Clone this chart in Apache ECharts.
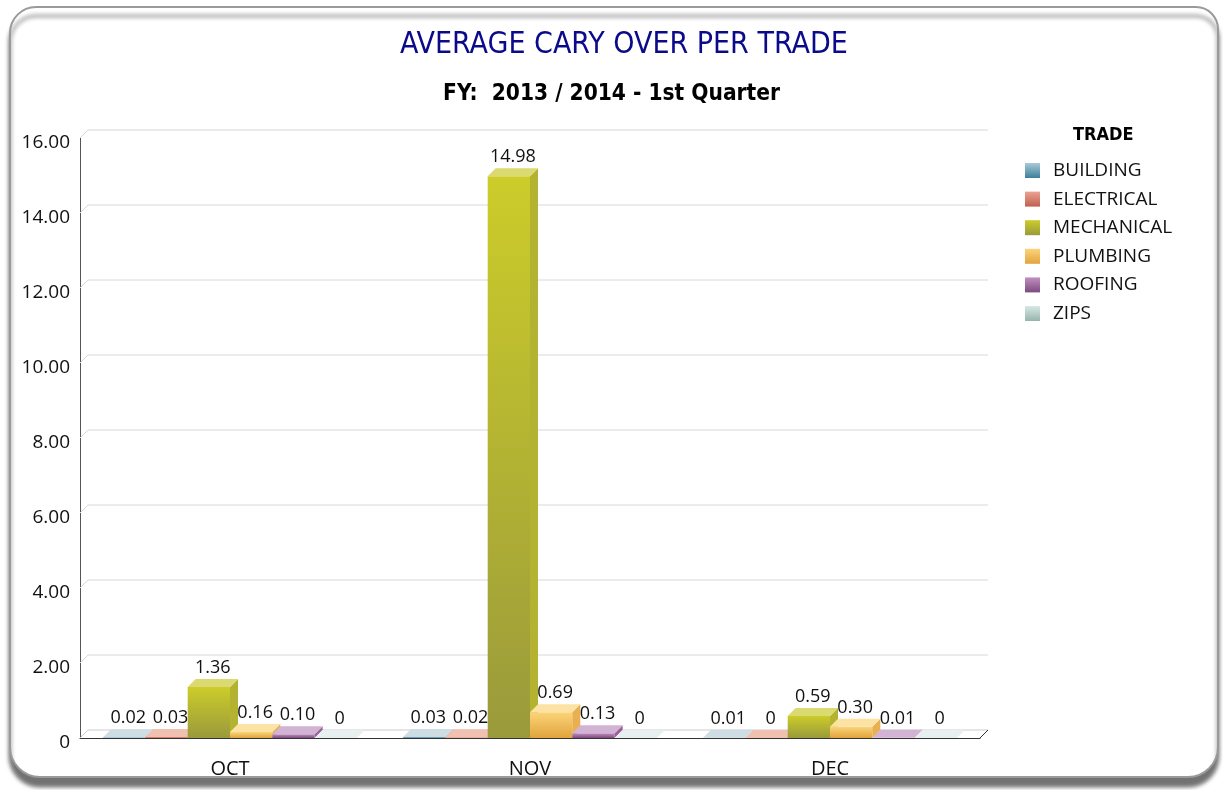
<!DOCTYPE html>
<html>
<head>
<meta charset="utf-8">
<script src="https://cdn.jsdelivr.net/npm/echarts@6/dist/echarts.min.js"></script>
<style>
html,body{margin:0;padding:0;background:#fff;}
#chart{width:1223px;height:790px;}
</style>
</head>
<body>
<div id="chart"></div>
<script>
// ---- data ----
const categories = ['OCT', 'NOV', 'DEC'];
const trades = ['BUILDING', 'ELECTRICAL', 'MECHANICAL', 'PLUMBING', 'ROOFING', 'ZIPS'];
const building   = [0.02, 0.03, 0.01];
const electrical = [0.03, 0.02, 0];
const mechanical = [1.36, 14.98, 0.59];
const plumbing   = [0.16, 0.69, 0.30];
const roofing    = [0.10, 0.13, 0.01];
const zips       = [0, 0, 0];
const yTicks = [0, 2, 4, 6, 8, 10, 12, 14, 16];

const seriesValues = [building, electrical, mechanical, plumbing, roofing, zips];

// ---- styles ----
const palette = [
  {front: ['#a9cad8', '#3d7f9a'], top: '#cddde3', side: '#5a8fa6'},
  {front: ['#eba394', '#c0604e'], top: '#f0c0b0', side: '#c8705e'},
  {front: ['#cccc2a', '#9a9a3c'], top: '#dada70', side: '#b3b331'},
  {front: ['#fcd47a', '#e0a43c'], top: '#fde3a3', side: '#e8b050'},
  {front: ['#c090c0', '#7e4a80'], top: '#d3b3d3', side: '#9a609a'},
  {front: ['#d8e8e6', '#96b4ac'], top: '#e8f0ef', side: '#b0c8c4'}
];
const DEPTH = 8;
const FONT = '"Open Sans", "DejaVu Sans", sans-serif';
const CFONT = '"DejaVu Sans Condensed", "DejaVu Sans", sans-serif';

function grad(c) {
  return new echarts.graphic.LinearGradient(0, 0, 0, 1, [
    {offset: 0, color: c[0]}, {offset: 1, color: c[1]}
  ]);
}
function fmt(v) { return v === 0 ? '0' : v.toFixed(2); }

function makeBarRender(idx) {
  return function (params, api) {
    const cat = api.value(0);
    const val = api.value(1);
    const base = api.coord([cat, 0]);
    const top = api.coord([cat, val]);
    const band = api.size([1, 0])[0];
    const w = band * 0.141;
    const x0 = base[0] - 3 * w + idx * w;
    const x1 = x0 + w;
    const y0 = base[1];
    const yt = top[1];
    const d = DEPTH;
    const p = palette[idx];
    const children = [];
    if (y0 - yt > 0.3) {
      children.push({
        type: 'rect',
        shape: {x: x0, y: yt, width: w, height: y0 - yt},
        style: {fill: grad(p.front)}
      });
      children.push({
        type: 'polygon',
        shape: {points: [[x1, yt], [x1 + d, yt - d], [x1 + d, y0 - d], [x1, y0]]},
        style: {fill: p.side}
      });
    }
    children.push({
      type: 'polygon',
      shape: {points: [[x0, yt], [x1, yt], [x1 + d, yt - d], [x0 + d, yt - d]]},
      style: {fill: p.top}
    });
    children.push({
      type: 'text',
      style: {
        x: x0 + w / 2 + d / 2, y: yt - d - 2,
        text: fmt(val), align: 'center', verticalAlign: 'bottom',
        font: '18px ' + FONT, fill: '#111'
      }
    });
    return {type: 'group', children: children};
  };
}

function renderGrid(params, api) {
  const v = api.value(0);
  const cs = params.coordSys;
  const y = api.coord([0, v])[1];
  const d = DEPTH;
  const children = [{
    type: 'polyline',
    shape: {points: [[cs.x, y], [cs.x + d, y - d], [cs.x + cs.width + d, y - d]]},
    style: {stroke: v === 0 ? '#cccccc' : '#d8d8d8', lineWidth: 1, fill: null}
  }];
  if (v === 0) {
    children.push({
      type: 'line',
      shape: {x1: cs.x + cs.width, y1: y, x2: cs.x + cs.width + d, y2: y - d},
      style: {stroke: '#333', lineWidth: 1}
    });
  }
  return {type: 'group', children: children};
}

const series = [{
  type: 'custom',
  name: '_grid',
  renderItem: renderGrid,
  data: yTicks.map(v => [v]),
  encode: {y: 0},
  silent: true,
  z: 1
}];
trades.forEach((t, i) => {
  series.push({
    type: 'custom',
    name: t,
    renderItem: makeBarRender(i),
    itemStyle: {color: grad(palette[i].front)},
    data: seriesValues[i].map((v, c) => [c, v]),
    encode: {x: 0, y: 1},
    clip: false,
    z: 2
  });
});

const chart = echarts.init(document.getElementById('chart'));
chart.setOption({
  animation: false,
  backgroundColor: '#fff',
  graphic: [{
    type: 'rect',
    z: -10,
    shape: {x: 10, y: 7, width: 1208, height: 770, r: [26, 22, 30, 30]},
    style: {
      fill: '#fff', stroke: '#9a9a9a', lineWidth: 2,
      shadowColor: 'rgba(0,0,0,0.55)', shadowBlur: 4, shadowOffsetY: 9, shadowOffsetX: 0
    }
  }],
  title: [{
    text: 'AVERAGE CARY OVER PER TRADE',
    left: 395, top: 25,
    textStyle: {color: '#0a0a8a', fontSize: 30, fontWeight: 'normal', fontFamily: CFONT}
  }, {
    text: 'FY:  2013 / 2014 - 1st Quarter',
    left: 'center', top: 78,
    textStyle: {color: '#000', fontSize: 22.5, fontWeight: 'bold', fontFamily: CFONT}
  }, {
    text: 'TRADE',
    left: 1068, top: 121,
    textStyle: {color: '#000', fontSize: 18, fontWeight: 'bold', fontFamily: CFONT}
  }],
  legend: {
    orient: 'vertical',
    left: 1020, top: 156,
    data: trades,
    icon: 'rect',
    itemWidth: 15, itemHeight: 15, itemGap: 9.6,
    textStyle: {fontSize: 19, color: '#111', fontFamily: FONT, padding: [0, 0, 0, 8]}
  },
  grid: {left: 80, right: 243, top: 138, bottom: 52},
  xAxis: {
    type: 'category',
    data: categories,
    axisLine: {show: true, lineStyle: {color: '#333'}},
    axisTick: {show: false},
    axisLabel: {fontSize: 20, color: '#111', margin: 21, fontFamily: FONT},
    splitLine: {show: false}
  },
  yAxis: {
    type: 'value',
    min: 0, max: 16, interval: 2,
    axisLine: {show: true, lineStyle: {color: '#555'}},
    axisTick: {show: false},
    splitLine: {show: false},
    axisLabel: {
      color: '#111', margin: 10,
      formatter: v => '{v|' + fmt(v) + '}',
      rich: {v: {fontSize: 19, color: '#111', fontFamily: FONT, padding: [10, 0, 0, 0]}}
    }
  },
  series: series
});
</script>
</body>
</html>
